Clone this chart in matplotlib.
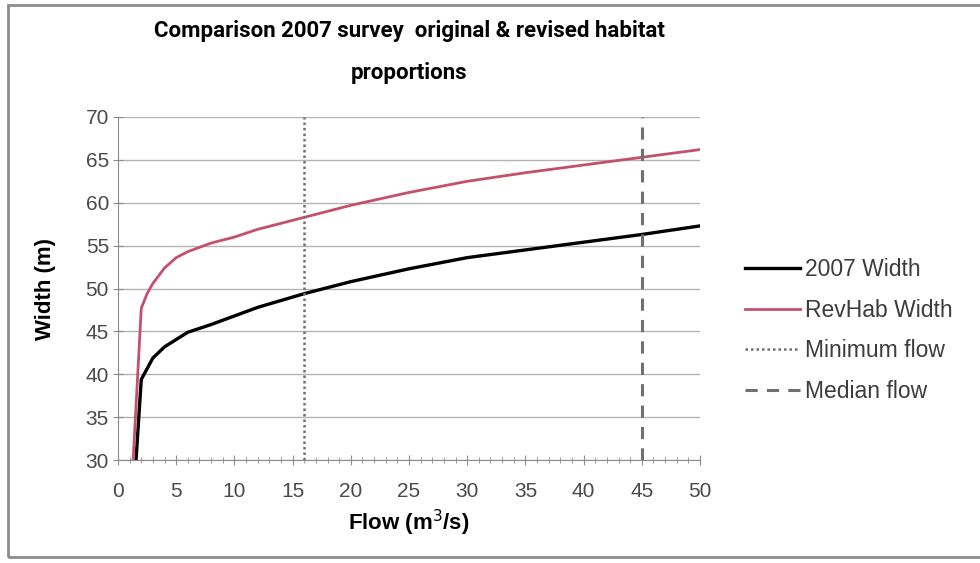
import matplotlib
matplotlib.use("Agg")
import matplotlib.pyplot as plt
from matplotlib.patches import Rectangle
from matplotlib.ticker import MultipleLocator

plt.rcParams['font.family'] = ['Liberation Sans', 'DejaVu Sans']

# Width-flow relationships from the 2007 survey and the revised habitat proportions
flow_2007 = [1.55, 2, 3, 4, 6, 8, 10, 12, 16, 20, 25, 30, 35, 40, 45, 50]
width_2007 = [30, 39.4, 41.9, 43.2, 44.9, 45.8, 46.8, 47.8, 49.4, 50.8, 52.3, 53.6, 54.5, 55.4, 56.3, 57.3]

flow_rev = [1.3, 2, 2.5, 3, 4, 5, 6, 8, 10, 12, 16, 20, 25, 30, 35, 40, 45, 50]
width_rev = [30, 47.7, 49.4, 50.6, 52.4, 53.6, 54.3, 55.3, 56.0, 56.9, 58.3, 59.7, 61.2, 62.5, 63.5, 64.4, 65.3, 66.2]

min_flow = 16
median_flow = 45

fig = plt.figure(figsize=(9.8, 5.63), dpi=100)
ax = fig.add_axes([0.1204, 0.1829, 0.5939, 0.6093])

# outer chart frame
fig.patches.append(Rectangle((0.008, 0.01), 1.0, 0.982, transform=fig.transFigure,
                             fill=False, edgecolor='#8c8c8c', linewidth=2))

ax.plot(flow_2007, width_2007, color='black', linewidth=2.4, label='2007 Width')
ax.plot(flow_rev, width_rev, color='#c4506c', linewidth=2.0, label='RevHab Width')
ax.axvline(min_flow, color='#707070', linestyle=(0, (1, 1.2)), linewidth=1.8, label='Minimum flow')
ax.axvline(median_flow, color='#707070', linestyle=(0, (4, 3)), linewidth=2.2, label='Median flow')

ax.set_xlim(0, 50)
ax.set_ylim(30, 70)
ax.xaxis.set_major_locator(MultipleLocator(5))
ax.xaxis.set_minor_locator(MultipleLocator(1))
ax.yaxis.set_major_locator(MultipleLocator(5))
ax.grid(axis='y', color='#b4b4b4', linewidth=1.0)
ax.set_axisbelow(True)

for side in ['top', 'right']:
    ax.spines[side].set_visible(False)
for side in ['left', 'bottom']:
    ax.spines[side].set_color('#8c8c8c')
ax.tick_params(which='major', direction='inout', length=7, color='#8c8c8c',
               labelsize=15, labelcolor='#4a4a4a')
ax.tick_params(axis='x', which='major', pad=12)
ax.tick_params(axis='y', which='major', pad=3)
ax.tick_params(which='minor', direction='inout', length=5, color='#8c8c8c')

fig.text(0.4174, 0.908, 'Comparison 2007 survey  original & revised habitat\nproportions',
         ha='center', va='center', fontsize=16, fontweight='bold', linespacing=2.15,
         family=['Roboto', 'Liberation Sans'])

ax.set_xlabel('Flow (m$^3$/s)', fontsize=16, fontweight='bold')
ax.set_ylabel('Width (m)', fontsize=16, fontweight='bold')
ax.xaxis.set_label_coords(0.5, -0.184)
ax.xaxis.label.set_va('center')
ax.yaxis.set_label_coords(-0.125, 0.5)
ax.yaxis.label.set_va('center')

leg = ax.legend(loc='center left', bbox_to_anchor=(0.751, 0.413), bbox_transform=fig.transFigure,
                borderaxespad=0, frameon=False, fontsize=16.5, handlelength=2.4,
                handletextpad=0.2, labelspacing=0.76)
for t in leg.get_texts():
    t.set_color('#3c3c3c')

fig.savefig('out.png', dpi=100, facecolor='white')
